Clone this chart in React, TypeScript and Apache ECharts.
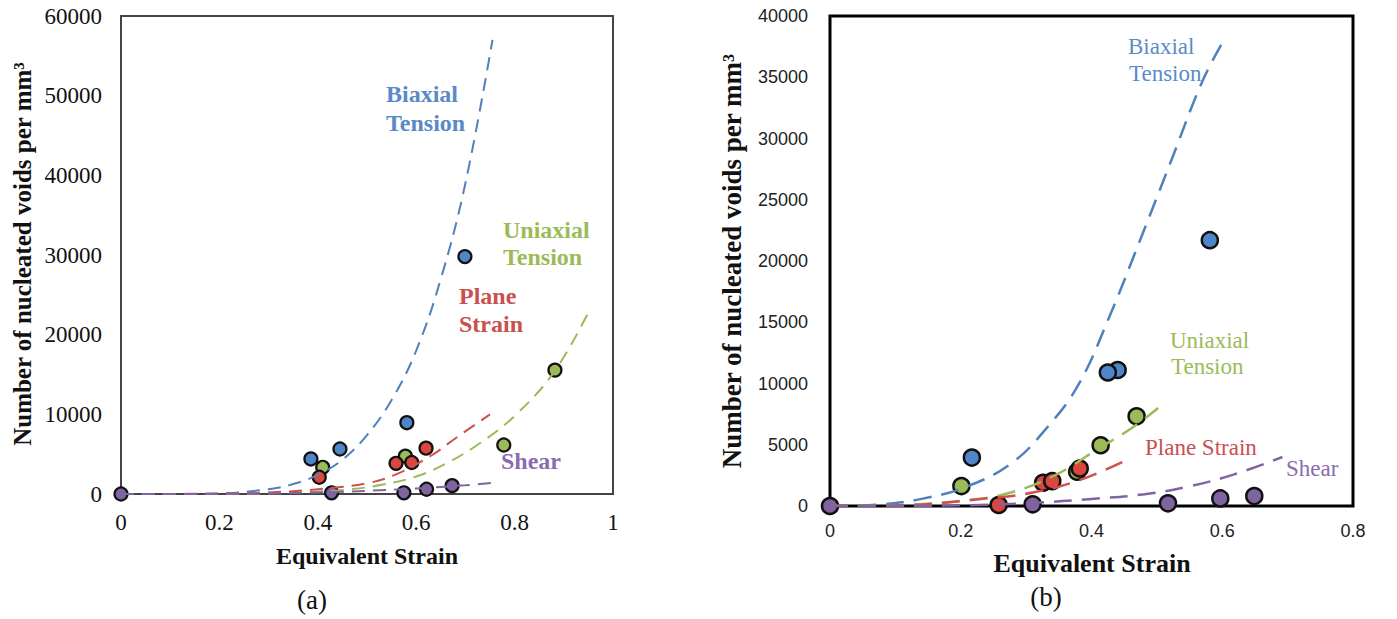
import React, { useEffect, useRef } from "react";
import * as echarts from "echarts";

// ---------- Data: panel (a) ----------
const aXTicks = { min: 0, max: 1, interval: 0.2 };
const aYTicks = { min: 0, max: 60000, interval: 10000 };
const aBiaxialPts = [[0.386, 4400], [0.445, 5650], [0.581, 8950], [0.699, 29800]];
const aUniaxialPts = [[0.41, 3350], [0.578, 4750], [0.778, 6150], [0.882, 15550]];
const aPlanePts = [[0.403, 2100], [0.559, 3850], [0.591, 3950], [0.62, 5750]];
const aShearPts = [[0, 0], [0.428, 150], [0.575, 150], [0.621, 600], [0.673, 1050]];
const aBiaxialFit = [[0, 0], [0.1, 2], [0.2, 80], [0.3, 600], [0.35, 1250], [0.4, 2400], [0.45, 4300], [0.5, 7400], [0.55, 11800], [0.6, 18000], [0.65, 27000], [0.7, 39000], [0.755, 57000]];
const aUniaxialFit = [[0, 0], [0.2, 20], [0.3, 90], [0.4, 300], [0.46, 550], [0.53, 1150], [0.6, 2200], [0.66, 3800], [0.73, 6400], [0.8, 9800], [0.88, 15300], [0.95, 22800]];
const aPlaneFit = [[0, 0], [0.2, 40], [0.3, 200], [0.4, 600], [0.5, 1350], [0.56, 2500], [0.63, 4800], [0.68, 7000], [0.75, 10000]];
const aShearFit = [[0, 0], [0.2, 15], [0.3, 70], [0.4, 200], [0.5, 400], [0.6, 700], [0.7, 1100], [0.755, 1400]];

// ---------- Data: panel (b) ----------
const bXTicks = { min: 0, max: 0.8, interval: 0.2 };
const bYTicks = { min: 0, max: 40000, interval: 5000 };
const bBiaxialPts = [[0.217, 3950], [0.44, 11100], [0.425, 10900], [0.581, 21700]];
const bUniaxialPts = [[0.201, 1630], [0.378, 2800], [0.414, 4960], [0.469, 7320]];
const bPlanePts = [[0.258, 80], [0.326, 1900], [0.34, 2030], [0.382, 3060]];
const bShearPts = [[0, 0], [0.31, 140], [0.517, 220], [0.597, 620], [0.649, 810]];
const bBiaxialFit = [[0, 0], [0.075, 120], [0.142, 600], [0.21, 1600], [0.278, 3500], [0.332, 6400], [0.38, 9900], [0.427, 15400], [0.475, 21800], [0.522, 28200], [0.569, 34600], [0.6, 37800]];
const bUniaxialFit = [[0, 0], [0.1, 60], [0.21, 480], [0.278, 1120], [0.346, 2560], [0.414, 4800], [0.46, 6300], [0.502, 8000]];
const bPlaneFit = [[0, 0], [0.1, 40], [0.244, 640], [0.312, 1120], [0.38, 2080], [0.451, 3680]];
const bShearFit = [[0, 0], [0.1, 20], [0.21, 64], [0.312, 260], [0.4, 580], [0.481, 960], [0.549, 1600], [0.617, 2560], [0.692, 4000]];

const BLUE = "#4F86C9";
const GREEN = "#9BBB59";
const RED = "#D9473F";
const PURPLE = "#8064A2";
const LBLUE = "#4F81BD";
const LRED = "#D0504D";

const SERIF = "'Liberation Serif', 'Times New Roman', serif";
const SANS = "'Liberation Sans', Arial, sans-serif";

function fitLine(data: number[][], color: string, idx: number, width: number, dash: number[]) {
  return {
    type: "line",
    xAxisIndex: idx,
    yAxisIndex: idx,
    data,
    smooth: 0.4,
    showSymbol: false,
    symbol: "none",
    silent: true,
    lineStyle: { color, width, type: dash },
  };
}

function pts(data: number[][], color: string, idx: number, size: number, bw: number) {
  return {
    type: "scatter",
    xAxisIndex: idx,
    yAxisIndex: idx,
    data,
    symbol: "circle",
    symbolSize: size,
    itemStyle: { color, borderColor: "#111", borderWidth: bw, opacity: 1 },
  };
}

function txt(text: string, x: number, y: number, size: number, fill: string, weight: string, family: string, align = "left", rotation = 0) {
  return {
    type: "text",
    x,
    y,
    rotation,
    style: {
      text,
      fill,
      fontSize: size,
      fontWeight: weight,
      fontFamily: family,
      align,
      verticalAlign: "middle",
      textAlign: align,
      textVerticalAlign: "middle",
    },
  };
}

export default function App() {
  const ref = useRef<HTMLDivElement>(null);
  useEffect(() => {
    if (!ref.current) return;
    const chart = echarts.init(ref.current, null, { renderer: "svg" });
    const numFmt = (v: number) => String(+Number(v).toFixed(2));
    const option = {
      animation: false,
      backgroundColor: "#fff",
      grid: [
        { left: 121, top: 16, width: 492, height: 478, show: true, borderColor: "#444", borderWidth: 2, backgroundColor: "transparent" },
        { left: 830, top: 16, width: 523, height: 490, show: true, borderColor: "#000", borderWidth: 3, backgroundColor: "transparent" },
      ],
      xAxis: [
        {
          gridIndex: 0, type: "value", ...aXTicks,
          axisLine: { show: false }, axisTick: { show: false }, splitLine: { show: false },
          axisLabel: { margin: 17, fontSize: 23, fontFamily: SERIF, color: "#111", formatter: numFmt },
        },
        {
          gridIndex: 1, type: "value", ...bXTicks,
          axisLine: { show: false }, axisTick: { show: false }, splitLine: { show: false },
          axisLabel: { margin: 16, fontSize: 18, fontFamily: SANS, color: "#222", formatter: numFmt },
        },
      ],
      yAxis: [
        {
          gridIndex: 0, type: "value", ...aYTicks,
          axisLine: { show: false }, axisTick: { show: false }, splitLine: { show: false },
          axisLabel: { margin: 19, fontSize: 23, fontFamily: SERIF, color: "#111", formatter: numFmt },
        },
        {
          gridIndex: 1, type: "value", ...bYTicks,
          axisLine: { show: false }, axisTick: { show: false }, splitLine: { show: false },
          axisLabel: { margin: 22, fontSize: 18, fontFamily: SANS, color: "#222", formatter: numFmt },
        },
      ],
      series: [
        fitLine(aBiaxialFit, LBLUE, 0, 2, [13, 8]),
        fitLine(aUniaxialFit, GREEN, 0, 2, [13, 8]),
        fitLine(aPlaneFit, LRED, 0, 2, [13, 8]),
        fitLine(aShearFit, PURPLE, 0, 2, [13, 8]),
        pts(aBiaxialPts, BLUE, 0, 13, 2.2),
        pts(aUniaxialPts, GREEN, 0, 13, 2.2),
        pts(aPlanePts, RED, 0, 13, 2.2),
        pts(aShearPts, PURPLE, 0, 13, 2.2),
        fitLine(bBiaxialFit, LBLUE, 1, 2.5, [18, 10]),
        fitLine(bUniaxialFit, GREEN, 1, 2.5, [18, 10]),
        fitLine(bPlaneFit, LRED, 1, 2.5, [18, 10]),
        fitLine(bShearFit, PURPLE, 1, 2.5, [18, 10]),
        pts(bBiaxialPts, BLUE, 1, 16, 2.5),
        pts(bUniaxialPts, GREEN, 1, 16, 2.5),
        pts(bPlanePts, RED, 1, 16, 2.5),
        pts(bShearPts, PURPLE, 1, 16, 2.5),
      ],
      graphic: [
        // panel (a)
        txt("Number of nucleated voids per mm³", 22, 254, 25, "#111", "bold", SERIF, "center", Math.PI / 2),
        txt("Equivalent Strain", 367, 556, 24, "#111", "bold", SERIF, "center"),
        txt("(a)", 312, 600, 27, "#111", "normal", SERIF, "center"),
        txt("Biaxial", 386, 94, 24, "#5A8AC6", "bold", SERIF),
        txt("Tension", 386, 123, 24, "#5A8AC6", "bold", SERIF),
        txt("Uniaxial", 503, 230, 24, "#9BBB59", "bold", SERIF),
        txt("Tension", 503, 257, 24, "#9BBB59", "bold", SERIF),
        txt("Plane", 459, 296, 24, "#C9504F", "bold", SERIF),
        txt("Strain", 459, 324, 24, "#C9504F", "bold", SERIF),
        txt("Shear", 501, 461, 24, "#8A6BB0", "bold", SERIF),
        // panel (b)
        txt("Number of nucleated voids per mm³", 732, 261, 27, "#111", "bold", SERIF, "center", Math.PI / 2),
        txt("Equivalent Strain", 1092, 563, 26, "#111", "bold", SERIF, "center"),
        txt("(b)", 1046, 597, 27, "#111", "normal", SERIF, "center"),
        txt("Biaxial", 1128, 46, 23, "#5B8BC8", "normal", SERIF),
        txt("Tension", 1129, 73, 23, "#5B8BC8", "normal", SERIF),
        txt("Uniaxial", 1170, 340, 23, "#9BBB59", "normal", SERIF),
        txt("Tension", 1171, 366, 23, "#9BBB59", "normal", SERIF),
        txt("Plane Strain", 1145, 447, 23, "#C9504F", "normal", SERIF),
        txt("Shear", 1286, 468, 23, "#8A6BB0", "normal", SERIF),
      ],
    };
    chart.setOption(option as any);
    return () => chart.dispose();
  }, []);
  return (
    <div
      ref={ref}
      style={{ position: "fixed", left: 0, top: 0, width: 1397, height: 619, background: "#fff" }}
    />
  );
}
